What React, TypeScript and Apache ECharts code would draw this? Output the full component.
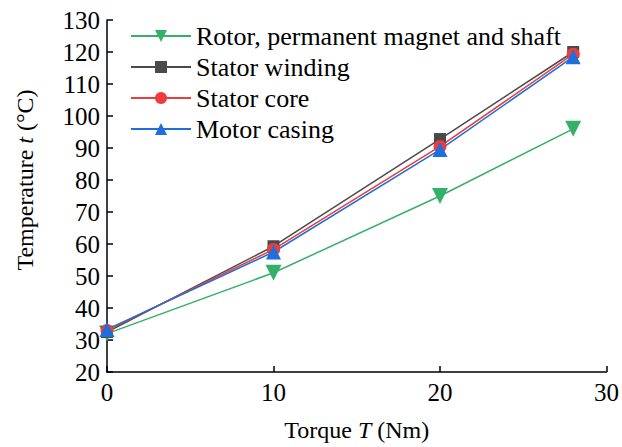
import React, { useEffect, useRef } from "react";
import * as echarts from "echarts";

const torque = [0, 10, 20, 28];
const rotor = [32, 51, 75, 96];
const winding = [32.5, 59.3, 92.8, 120];
const core = [33, 58.3, 90.5, 119.3];
const casing = [33.3, 57.5, 89.5, 118.5];
const seriesNames = [
  "Rotor, permanent magnet and shaft",
  "Stator winding",
  "Stator core",
  "Motor casing",
];

const FONT = "Liberation Serif";
const nameStyle = { fontFamily: FONT, fontSize: 24, color: "#000" };
const tickStyle = { fontFamily: FONT, fontSize: 25, color: "#000" };

export default function App() {
  const ref = useRef<HTMLDivElement>(null);
  useEffect(() => {
    if (!ref.current) return;
    const chart = echarts.init(ref.current, undefined, { renderer: "svg" });
    const mk = (vals: number[]) => torque.map((t, i) => [t, vals[i]]);
    chart.setOption({
      animation: false,
      textStyle: { fontFamily: FONT },
      grid: { left: 107, right: 15, top: 20, bottom: 75, containLabel: false },
      legend: {
        left: 125,
        top: 18,
        orient: "vertical",
        itemWidth: 60,
        itemHeight: 15,
        itemGap: 5,
        textStyle: { fontFamily: FONT, fontSize: 26, color: "#000" },
        data: seriesNames,
      },
      xAxis: {
        type: "value",
        min: 0,
        max: 30,
        interval: 10,
        name: "{n|Torque }{i|T}{n| (Nm)}",
        nameLocation: "middle",
        nameGap: 46,
        nameTextStyle: {
          ...nameStyle,
          rich: { n: { ...nameStyle }, i: { ...nameStyle, fontStyle: "italic" } },
        },
        axisLine: { show: true, lineStyle: { color: "#000", width: 1.5 } },
        axisTick: { show: true, inside: true, length: 6, lineStyle: { color: "#000", width: 1.5 } },
        axisLabel: { ...tickStyle, margin: 8 },
        splitLine: { show: false },
      },
      yAxis: {
        type: "value",
        min: 20,
        max: 130,
        interval: 10,
        name: "{n|Temperature }{i|t}{n| (°C)}",
        nameLocation: "middle",
        nameGap: 70,
        nameRotate: 90,
        nameTextStyle: {
          ...nameStyle,
          padding: [0, 0, 0, 32],
          rich: { n: { ...nameStyle }, i: { ...nameStyle, fontStyle: "italic" } },
        },
        axisLine: { show: true, lineStyle: { color: "#000", width: 1.5 } },
        axisTick: { show: true, inside: true, length: 6, lineStyle: { color: "#000", width: 1.5 } },
        axisLabel: { ...tickStyle, margin: 7 },
        splitLine: { show: false },
      },
      series: [
        {
          name: seriesNames[0],
          type: "line",
          data: mk(rotor),
          symbol: "triangle",
          symbolRotate: 180,
          symbolSize: 16,
          itemStyle: { color: "#35b06a" },
          lineStyle: { color: "#35b06a", width: 1.5 },
        },
        {
          name: seriesNames[1],
          type: "line",
          data: mk(winding),
          symbol: "rect",
          symbolSize: 12,
          itemStyle: { color: "#4a4a4a" },
          lineStyle: { color: "#4a4a4a", width: 1.5 },
        },
        {
          name: seriesNames[2],
          type: "line",
          data: mk(core),
          symbol: "circle",
          symbolSize: 13,
          itemStyle: { color: "#ee3b3b" },
          lineStyle: { color: "#ee3b3b", width: 1.5 },
        },
        {
          name: seriesNames[3],
          type: "line",
          data: mk(casing),
          symbol: "triangle",
          symbolSize: 15,
          itemStyle: { color: "#1e6fdc" },
          lineStyle: { color: "#1e6fdc", width: 1.5 },
        },
      ],
    });
    return () => chart.dispose();
  }, []);
  return <div ref={ref} style={{ width: 622, height: 447, position: "absolute", left: 0, top: 0 }} />;
}
